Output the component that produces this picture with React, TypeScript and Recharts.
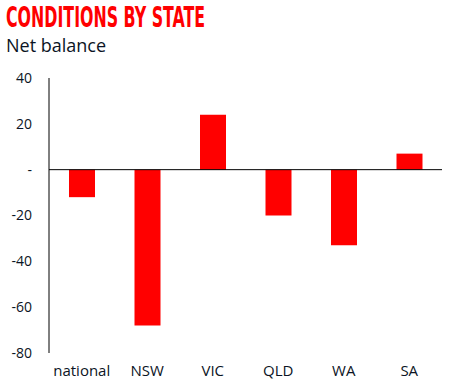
import { BarChart, Bar, XAxis, YAxis, ReferenceLine } from "recharts";

const regions = ["national", "NSW", "VIC", "QLD", "WA", "SA"];
const netBalance = [-12, -68, 24, -20, -33, 7];
const yTicks = [-80, -60, -40, -20, 0, 20, 40];

const data = regions.map((r, i) => ({ region: r, value: netBalance[i] }));

const font = "'Segoe UI', 'Open Sans', 'DejaVu Sans', sans-serif";
const ink = "#0b1424";

export default function App() {
  return (
    <div style={{ position: "absolute", left: 0, top: 0, width: 452, height: 387, background: "#fff" }}>
      <svg width={452} height={60} style={{ position: "absolute", left: 0, top: 0 }}>
        <text
          x={6}
          y={27}
          fill="#ff0000"
          fontFamily="'Liberation Sans Narrow', 'DejaVu Sans Condensed', sans-serif"
          fontWeight="bold"
          fontSize={29}
          textLength={199}
          lengthAdjust="spacingAndGlyphs"
        >
          CONDITIONS BY STATE
        </text>
        <text x={6} y={52} fill={ink} fontFamily={font} fontSize={18}>
          Net balance
        </text>
      </svg>
      <BarChart
        width={452}
        height={387}
        data={data}
        margin={{ top: 78, right: 10, bottom: 4, left: 0 }}
        barCategoryGap="30%"
      >
        <XAxis
          dataKey="region"
          axisLine={false}
          tickLine={false}
          tickMargin={6}
          height={30}
          tick={{ fill: ink, fontSize: 15, fontFamily: font }}
        />
        <YAxis
          width={49}
          domain={[-80, 40]}
          ticks={yTicks}
          interval={0}
          tickLine={false}
          axisLine={{ stroke: "#000", strokeWidth: 1 }}
          tickMargin={11}
          tickFormatter={(v: number) => (v === 0 ? "-" : String(v))}
          tick={{ fill: ink, fontSize: 14, fontFamily: font }}
        />
        <ReferenceLine y={0} stroke="#000" strokeWidth={1} />
        <Bar dataKey="value" fill="#ff0000" barSize={26} isAnimationActive={false} />
      </BarChart>
    </div>
  );
}
